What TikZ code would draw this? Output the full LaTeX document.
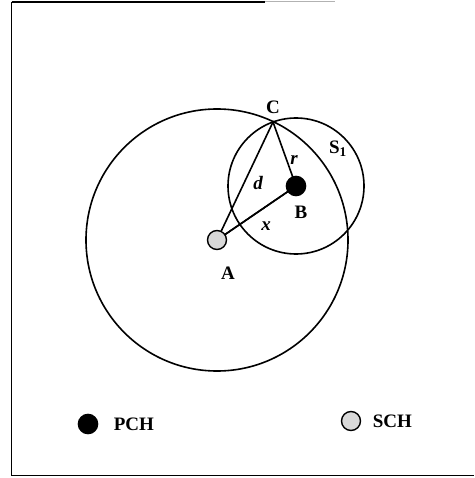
\documentclass[tikz,border=0pt]{standalone}
\usepackage{fontspec}
\setmainfont{Liberation Serif}
\begin{document}
\begin{tikzpicture}[x=1pt,y=-1pt,line width=1.6pt,
  lbl/.style={font=\bfseries\fontsize{19}{19}\selectfont,inner sep=0pt},
  ilbl/.style={font=\bfseries\itshape\fontsize{19}{19}\selectfont,inner sep=0pt},
  pch/.style={circle,fill=black,draw=black,minimum size=19pt,inner sep=0pt},
  sch/.style={circle,fill=gray!30,draw=black,line width=1.4pt,minimum size=19pt,inner sep=0pt}]
\useasboundingbox (0,0) rectangle (474,478);
% frame
\draw[line width=1.6pt] (11.5,2) -- (11.5,475.5) -- (474,475.5);
\draw[line width=1.4pt] (11.5,2) -- (265,2);
\draw[line width=1pt,gray!60] (265,2) -- (335,2);
% geometry
\coordinate (Ac) at (217,240);
\coordinate (Bc) at (296,186);
\coordinate (C) at (273,122);
\draw (Ac) circle[radius=131];
\draw (Bc) circle[radius=68];
\draw (Ac) -- (C) -- (Bc) -- cycle;
\draw (Ac) -- (Bc);
\node[sch] (A) at (Ac) {};
\node[pch] (B) at (Bc) {};
% labels
\node[lbl] (lC) at (273,107) {C};
\node[lbl] (lB) at (301,212) {B};
\node[lbl] (lA) at (228,273) {A};
\node[lbl] (lS) at (338,149) {S$_{\mathbf 1}$};
\node[ilbl] (ld) at (258,183) {d};
\node[ilbl] (lr) at (294,160) {r};
\node[ilbl] (lx) at (266,226) {x};
% legend
\node[pch] (P) at (88,424) {};
\node[lbl,anchor=west] (lP) at (113,424) {PCH};
\node[sch] (S) at (351,421) {};
\node[lbl,anchor=west] (lSc) at (372,421) {SCH};
\end{tikzpicture}
\end{document}
